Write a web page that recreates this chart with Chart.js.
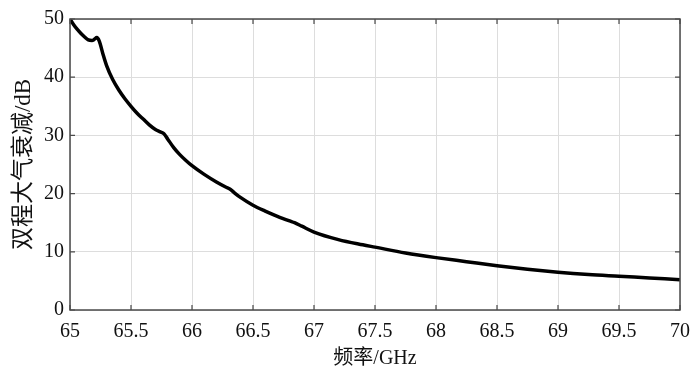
<!DOCTYPE html>
<html>
<head>
<meta charset="utf-8">
<script src="https://cdn.jsdelivr.net/npm/chart.js@4/dist/chart.umd.min.js"></script>
<style>
  html, body { margin: 0; padding: 0; background: #fff; }
  #wrap { width: 700px; height: 373px; }
</style>
</head>
<body>
<div id="wrap"><canvas id="attenChart" width="700" height="373"></canvas></div>
<script>
// Two-way atmospheric attenuation vs frequency
const freqGHz = [
  65.00, 65.03, 65.06, 65.09, 65.12, 65.15, 65.18, 65.20, 65.22, 65.24,
  65.27, 65.30, 65.35, 65.40, 65.45, 65.50, 65.55, 65.60, 65.65, 65.70,
  65.74, 65.77, 65.80, 65.85, 65.90, 65.95, 66.00, 66.10, 66.20, 66.28,
  66.31, 66.35, 66.40, 66.50, 66.60, 66.70, 66.80, 66.84, 66.90, 67.00,
  67.20, 67.40, 67.50, 67.75, 68.00, 68.25, 68.50, 68.75, 69.00, 69.25,
  69.50, 69.75, 70.00
];
const attenDb = [
  50.0, 49.0, 48.2, 47.5, 46.9, 46.4, 46.3, 46.5, 46.8, 46.2,
  44.0, 42.0, 39.6, 37.8, 36.3, 35.0, 33.8, 32.8, 31.8, 31.0,
  30.6, 30.3, 29.4, 27.9, 26.7, 25.7, 24.8, 23.3, 22.0, 21.1,
  20.8, 20.1, 19.3, 18.0, 17.0, 16.1, 15.3, 15.0, 14.4, 13.4,
  12.1, 11.2, 10.8, 9.8, 9.0, 8.3, 7.6, 7.0, 6.5, 6.1,
  5.8, 5.5, 5.2
];
const xTicks = [65, 65.5, 66, 66.5, 67, 67.5, 68, 68.5, 69, 69.5, 70];
const yTicks = [0, 10, 20, 30, 40, 50];

const serif = '"Liberation Serif", "DejaVu Serif", serif';
const cjk = '"Liberation Serif", "Noto Sans CJK SC", serif';

// frame around the plot area with small inward ticks on every side
const framePlugin = {
  id: 'frame',
  afterDatasetsDraw(chart) {
    const { ctx, chartArea: a, scales } = chart;
    ctx.save();
    ctx.strokeStyle = '#4a4a4a';
    ctx.lineWidth = 1.5;
    ctx.strokeRect(a.left, a.top, a.right - a.left, a.bottom - a.top);
    ctx.lineWidth = 1.2;
    ctx.beginPath();
    xTicks.forEach(v => {
      const x = scales.x.getPixelForValue(v);
      ctx.moveTo(x, a.top); ctx.lineTo(x, a.top + 5);
      ctx.moveTo(x, a.bottom); ctx.lineTo(x, a.bottom - 5);
    });
    yTicks.forEach(v => {
      const y = scales.y.getPixelForValue(v);
      ctx.moveTo(a.left, y); ctx.lineTo(a.left + 5, y);
      ctx.moveTo(a.right, y); ctx.lineTo(a.right - 5, y);
    });
    ctx.stroke();
    ctx.restore();
  }
};

new Chart(document.getElementById('attenChart'), {
  type: 'line',
  data: {
    datasets: [{
      data: freqGHz.map((f, i) => ({ x: f, y: attenDb[i] })),
      borderColor: '#000000',
      borderWidth: 3.5,
      pointRadius: 0,
      cubicInterpolationMode: 'monotone',
      fill: false
    }]
  },
  options: {
    responsive: false,
    animation: false,
    layout: { padding: { left: 4, right: 17, top: 19, bottom: 0 } },
    plugins: { legend: { display: false }, tooltip: { enabled: false } },
    scales: {
      x: {
        type: 'linear',
        min: 65,
        max: 70,
        afterBuildTicks: s => { s.ticks = xTicks.map(v => ({ value: v })); },
        afterFit: s => { s.height = 63; },
        border: { display: false },
        grid: { color: '#dddddd', lineWidth: 1, drawTicks: false },
        ticks: {
          color: '#111',
          font: { family: serif, size: 20 },
          padding: 10,
          maxRotation: 0,
          callback: v => String(v)
        },
        title: {
          display: true,
          text: '频率/GHz',
          color: '#111',
          font: { family: cjk, size: 20 },
          padding: { top: 0, bottom: 2 }
        }
      },
      y: {
        min: 0,
        max: 50,
        afterBuildTicks: s => { s.ticks = yTicks.map(v => ({ value: v })); },
        afterFit: s => { s.width = 66; },
        border: { display: false },
        grid: { color: '#dddddd', lineWidth: 1, drawTicks: false },
        ticks: {
          color: '#111',
          font: { family: serif, size: 20 },
          padding: 6
        },
        title: {
          display: true,
          text: '双程大气衰减/dB',
          color: '#111',
          font: { family: cjk, size: 23 },
          padding: { top: 6, bottom: 0 }
        }
      }
    }
  },
  plugins: [framePlugin]
});
</script>
</body>
</html>
